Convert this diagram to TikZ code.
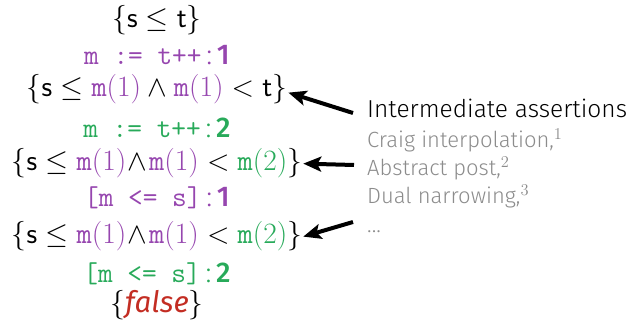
\documentclass[tikz,border=0pt]{standalone}
\usepackage{fix-cm}
\usepackage{fontspec}
\usepackage{amsmath}
\newfontfamily\fira{Fira Sans}[UprightFont=* Light, BoldFont=* Medium, ItalicFont=* Italic]
\usetikzlibrary{arrows.meta}
\definecolor{cone}{RGB}{150,70,175}
\definecolor{ctwo}{RGB}{40,170,90}
\definecolor{cfalse}{RGB}{195,45,35}
\definecolor{cnote}{RGB}{140,140,140}
\newcommand{\mone}{\textcolor{cone}{\mathtt{m}(1)}}
\newcommand{\mtwo}{\textcolor{ctwo}{\mathtt{m}(2)}}
\newcommand{\lbl}[1]{\,{\fira:}\,{\fira\bfseries #1}}
\newcommand{\fnref}[1]{\raisebox{0.4em}{\fontsize{16.5}{17}\selectfont$#1$}}
\begin{document}
\begin{tikzpicture}[x=1pt,y=1pt,
  assert/.style={anchor=base,inner sep=1pt,font=\fontsize{29.5}{34}\selectfont},
  stmt/.style={anchor=base,inner sep=0pt,font=\fontsize{28.5}{32}\selectfont},
  head/.style={anchor=base west,inner sep=0pt,font=\fontsize{24.5}{30}\selectfont\fira},
  note/.style={anchor=base west,inner sep=0pt,text=cnote,font=\fontsize{22}{26}\selectfont\fira},
  pointer/.style={line width=4pt,-{Stealth[length=18pt,width=15pt,inset=4pt]}}]
\useasboundingbox (0,0) rectangle (632,324);
% program annotated with assertions
\node[assert] (a0) at (157,324-28) {$\{\mathsf{s}\le\mathsf{t}\}$};
\node[stmt,text=cone] (s1) at (157,324-65) {\texttt{m := t++}\lbl{1}};
\node[assert] (a1) at (157,324-97) {$\{\mathsf{s}\le\mone\wedge\mone<\mathsf{t}\}$};
\node[stmt,text=ctwo] (s2) at (157,324-138) {\texttt{m := t++}\lbl{2}};
\node[assert] (a2) at (157,324-171) {$\{\mathsf{s}\le\mone\!\wedge\!\mone<\mtwo\}$};
\node[stmt,text=cone] (s3) at (157,324-207) {\texttt{[m <= s]}\lbl{1}};
\node[assert] (a3) at (157,324-244) {$\{\mathsf{s}\le\mone\!\wedge\!\mone<\mtwo\}$};
\node[stmt,text=ctwo] (s4) at (157,324-283) {\texttt{[m <= s]}\lbl{2}};
\node[assert] (a4) at (157,324-313) {$\{\text{\fira\itshape\color{cfalse}false}\}$};
% explanation on the right
\node[head] (h) at (367,324-118) {Intermediate assertions};
\node[note] (n1) at (367,324-148) {Craig interpolation,\fnref{1}};
\node[note] (n2) at (367,324-176) {Abstract post,\fnref{2}};
\node[note] (n3) at (367,324-204) {Dual narrowing,\fnref{3}};
\node[note] (n4) at (367,324-233) {...};
% pointers to the assertions
\coordinate (p1) at (353,324-113);
\coordinate (p2) at (354,324-165);
\coordinate (p3) at (353,324-222);
\draw[pointer] (p1) -- ([yshift=-3pt]a1.east);
\draw[pointer] (p2) -- (a2.east);
\draw[pointer] (p3) -- (a3.east);
\end{tikzpicture}
\end{document}
